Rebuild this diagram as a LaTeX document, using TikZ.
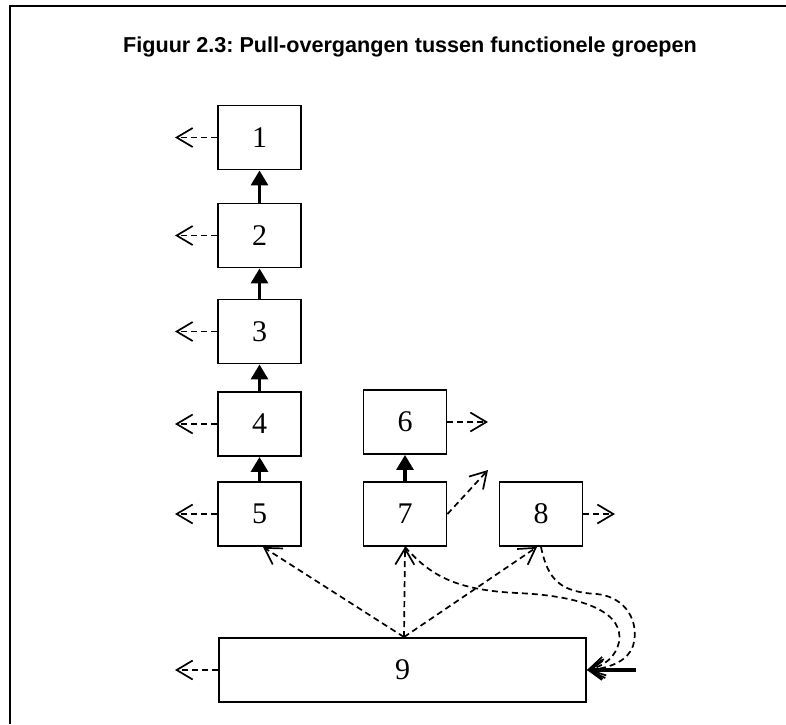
\documentclass[tikz,border=0pt]{standalone}
\usepackage{fontspec}
\setmainfont{Liberation Serif}
\newfontfamily\titlefont{Liberation Sans}
\usetikzlibrary{arrows.meta}
\frenchspacing

\begin{document}
\begin{tikzpicture}[x=1pt,y=-1pt,
  box/.style={draw, line width=1.9pt, minimum width=83pt, minimum height=64pt,
    inner sep=0pt, font=\fontsize{30}{30}\selectfont},
  pull/.style={line width=3.2pt, -{Triangle[length=15pt,width=17pt]}},
  side/.style={line width=1.7pt, dash pattern=on 6pt off 4pt,
    -{Straight Barb[length=16pt,width=19pt,line width=1.7pt]}},
  thickin/.style={line width=3.8pt,
    -{Straight Barb[length=13pt,width=19pt,line width=2.8pt]}},
]
\useasboundingbox (0,0) rectangle (786,724);

% frame
\draw[line width=2pt] (10,724) -- (10,5.5) -- (786,5.5);

% title
\node[anchor=base, inner sep=0pt] (title) at (410,52)
  {\titlefont\bfseries\fontsize{21.6}{21.6}\selectfont Figuur 2.3: Pull-overgangen tussen functionele groepen};

% functional groups
\node[box] (b1) at (259.5,137.5) {1};
\node[box] (b2) at (259.5,235.5) {2};
\node[box] (b3) at (259.5,331.5) {3};
\node[box] (b4) at (259.5,424) {4};
\node[box] (b5) at (259.5,514) {5};
\node[box] (b6) at (405,422) {6};
\node[box] (b7) at (405,514) {7};
\node[box] (b8) at (541,514) {8};
\node[box, minimum width=367pt] (b9) at (402.5,670) {9};

% pull transitions
\draw[pull] (b2) -- (b1);
\draw[pull] (b3) -- (b2);
\draw[pull] (b4) -- (b3);
\draw[pull] (b5) -- (b4);
\draw[pull] (b7) -- (b6);

% outgoing transitions
\coordinate (o1) at (175,137.5);
\coordinate (o2) at (175,235.5);
\coordinate (o3) at (175,331.5);
\coordinate (o4) at (175,424);
\coordinate (o5) at (175,514);
\coordinate (o9) at (175,670);
\coordinate (o6) at (488,422);
\coordinate (o7) at (488,470);
\coordinate (o8) at (615,514);
\draw[side] (b1.west) -- (o1);
\draw[side] (b2.west) -- (o2);
\draw[side] (b3.west) -- (o3);
\draw[side] (b4.west) -- (o4);
\draw[side] (b5.west) -- (o5);
\draw[side] (b9.west) -- (o9);
\draw[side] (b6.east) -- (o6);
\draw[side] (b8.east) -- (o8);
\draw[side] (b7.east) -- (o7);

% transitions from group 9
\coordinate (s9) at ([xshift=1.5pt]b9.north);
\draw[side] (s9) -- ([xshift=3.5pt]b5.south);
\draw[side] (s9) -- (b7.south);
\draw[side] (s9) -- ([xshift=-4pt]b8.south);

% returns into group 9
\draw[side] (b7.south) .. controls (430,575) and (455,590) .. (517,593)
  .. controls (588,596) and (624,614) .. (619,642)
  .. controls (616,656) and (605,666) .. (b9.east);
\draw[side] (b8.south) .. controls (548,580) and (560,592) .. (597,594)
  .. controls (626,597) and (640,622) .. (633,646)
  .. controls (628,660) and (612,668) .. (b9.east);
\coordinate (in9) at (636,670);
\draw[thickin] (in9) -- (b9.east);
\end{tikzpicture}
\end{document}
